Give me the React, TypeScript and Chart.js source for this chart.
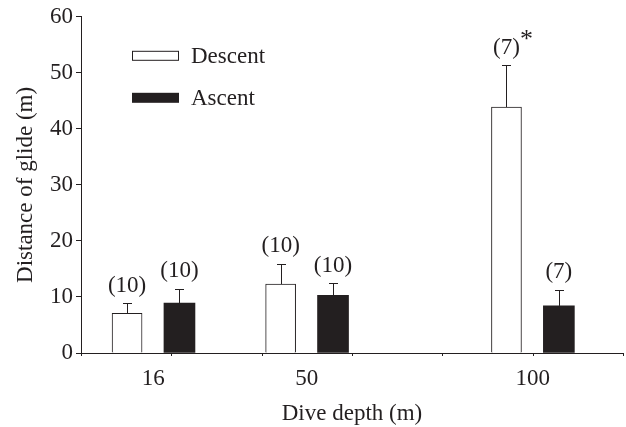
import React, { useEffect, useRef } from 'react';
import { Chart, registerables } from 'chart.js';

Chart.register(...registerables);

// ---- data ----
const depths = [16, 50, 100];
const depthTickLabels = ['16', '50', '100'];
const minorTickValues = [0, 20, 40, 60, 80, 100, 120];
const seriesNames = ['Descent', 'Ascent'];
const descentMean = [7.1, 12.3, 43.9];
const descentSE = [1.8, 3.6, 7.5];
const ascentMean = [8.9, 10.3, 8.4];
const ascentSE = [2.6, 2.2, 2.9];
const descentN = ['(10)', '(10)', '(7)'];
const ascentN = ['(10)', '(10)', '(7)'];
const descentSig = ['', '', '*'];
const ascentSig = ['', '', ''];

// ---- style / layout ----
const INK = '#231f20';
const FONT = "'Liberation Serif', 'Times New Roman', serif";
const FS = 23;
const GROUP_OFFSET = 5.8; // x-units from depth to each bar centre
const W = 626;
const H = 427;

const errorBarsPlugin = {
  id: 'errorBarsAndCounts',
  afterDatasetsDraw(chart: any) {
    const { ctx, scales } = chart;
    const errs = [descentSE, ascentSE];
    const counts = [descentN, ascentN];
    const sigs = [descentSig, ascentSig];
    chart.data.datasets.forEach((ds: any, di: number) => {
      const meta = chart.getDatasetMeta(di);
      meta.data.forEach((bar: any, i: number) => {
        const v = ds.data[i].y;
        const topY = scales.y.getPixelForValue(v + errs[di][i]);
        const x = Math.round(bar.x) + 0.5;
        ctx.save();
        ctx.strokeStyle = INK;
        ctx.lineWidth = 1;
        ctx.beginPath();
        ctx.moveTo(x, bar.y);
        ctx.lineTo(x, Math.round(topY) + 0.5);
        ctx.moveTo(x - 4.5, Math.round(topY) + 0.5);
        ctx.lineTo(x + 4.5, Math.round(topY) + 0.5);
        ctx.stroke();
        // n labels
        ctx.fillStyle = INK;
        ctx.font = `${FS}px ${FONT}`;
        ctx.textAlign = 'center';
        ctx.textBaseline = 'bottom';
        const label = counts[di][i];
        const ly = topY - 6;
        ctx.fillText(label, bar.x, ly);
        if (sigs[di][i]) {
          const w = ctx.measureText(label).width;
          ctx.textAlign = 'left';
          ctx.font = `26px ${FONT}`;
          ctx.fillText(sigs[di][i], bar.x + w / 2, ly - 6);
        }
        ctx.restore();
      });
    });
  },
};

const minorTicksPlugin = {
  id: 'minorTicks',
  afterDraw(chart: any) {
    const { ctx, scales, chartArea } = chart;
    ctx.save();
    ctx.strokeStyle = INK;
    ctx.lineWidth = 1;
    ctx.beginPath();
    minorTickValues.forEach((v) => {
      const x = Math.round(scales.x.getPixelForValue(v)) + 0.5;
      ctx.moveTo(x, chartArea.bottom);
      ctx.lineTo(x, chartArea.bottom + 3);
    });
    ctx.stroke();
    ctx.restore();
  },
};

const legendPlugin = {
  id: 'insideLegend',
  afterDraw(chart: any) {
    const { ctx, chartArea } = chart;
    const bx = chartArea.left + 51;
    const rows = [chartArea.top + 34, chartArea.top + 76];
    ctx.save();
    chart.data.datasets.forEach((ds: any, i: number) => {
      const y = rows[i];
      ctx.fillStyle = ds.backgroundColor;
      ctx.fillRect(bx, y, 47, 10);
      if (i === 0) {
        ctx.strokeStyle = INK;
        ctx.lineWidth = 1;
        ctx.strokeRect(bx + 0.5, y + 0.5, 46, 9);
      }
      ctx.fillStyle = INK;
      ctx.font = `${FS}px ${FONT}`;
      ctx.textAlign = 'left';
      ctx.textBaseline = 'middle';
      ctx.fillText(ds.label, bx + 59, y + 6);
    });
    ctx.restore();
  },
};

export default function App() {
  const ref = useRef<HTMLCanvasElement | null>(null);

  useEffect(() => {
    if (!ref.current) return;
    const chart = new Chart(ref.current, {
      type: 'bar',
      data: {
        datasets: [
          {
            label: seriesNames[0],
            data: depths.map((d, i) => ({ x: d - GROUP_OFFSET, y: descentMean[i] })),
            backgroundColor: '#ffffff',
            borderColor: INK,
            borderWidth: 1,
            barThickness: 30,
            grouped: false,
          },
          {
            label: seriesNames[1],
            data: depths.map((d, i) => ({ x: d + GROUP_OFFSET, y: ascentMean[i] })),
            backgroundColor: INK,
            borderColor: INK,
            borderWidth: 0,
            barThickness: 31,
            grouped: false,
          },
        ],
      },
      options: {
        animation: false,
        responsive: false,
        maintainAspectRatio: false,
        layout: { padding: { top: 15, right: 3, left: 0, bottom: 0 } },
        plugins: {
          legend: { display: false },
          tooltip: { enabled: false },
        },
        scales: {
          x: {
            type: 'linear',
            offset: false,
            min: 0,
            max: 120,
            afterBuildTicks: (scale: any) => {
              scale.ticks = depths.map((v) => ({ value: v }));
            },
            afterFit: (scale: any) => {
              scale.height = 74;
            },
            ticks: {
              autoSkip: false,
              maxRotation: 0,
              padding: 12,
              color: INK,
              font: { family: FONT, size: FS },
              callback: (_v: any, idx: number) => depthTickLabels[idx],
            },
            grid: { display: true, offset: false, drawOnChartArea: false, drawTicks: false, color: INK },
            border: { display: true, color: INK, width: 1 },
            title: {
              display: true,
              text: 'Dive depth (m)',
              color: INK,
              font: { family: FONT, size: FS },
              padding: { top: 0, bottom: -1 },
            },
          },
          y: {
            min: 0,
            max: 60,
            afterFit: (scale: any) => {
              scale.width = 81;
            },
            ticks: {
              stepSize: 10,
              padding: 3,
              color: INK,
              font: { family: FONT, size: FS },
            },
            grid: { drawOnChartArea: false, drawTicks: true, tickLength: 5, tickColor: INK, color: INK },
            border: { display: true, color: INK, width: 1 },
            title: {
              display: true,
              text: 'Distance of glide (m)',
              color: INK,
              font: { family: FONT, size: FS },
              padding: { top: 12, bottom: 0 },
            },
          },
        },
      },
      plugins: [errorBarsPlugin, minorTicksPlugin, legendPlugin],
    } as any);
    return () => chart.destroy();
  }, []);

  return (
    <div style={{ position: 'fixed', left: 0, top: 0, width: W, height: H, background: '#fff' }}>
      <canvas ref={ref} width={W} height={H} style={{ display: 'block', width: W, height: H }} />
    </div>
  );
}
